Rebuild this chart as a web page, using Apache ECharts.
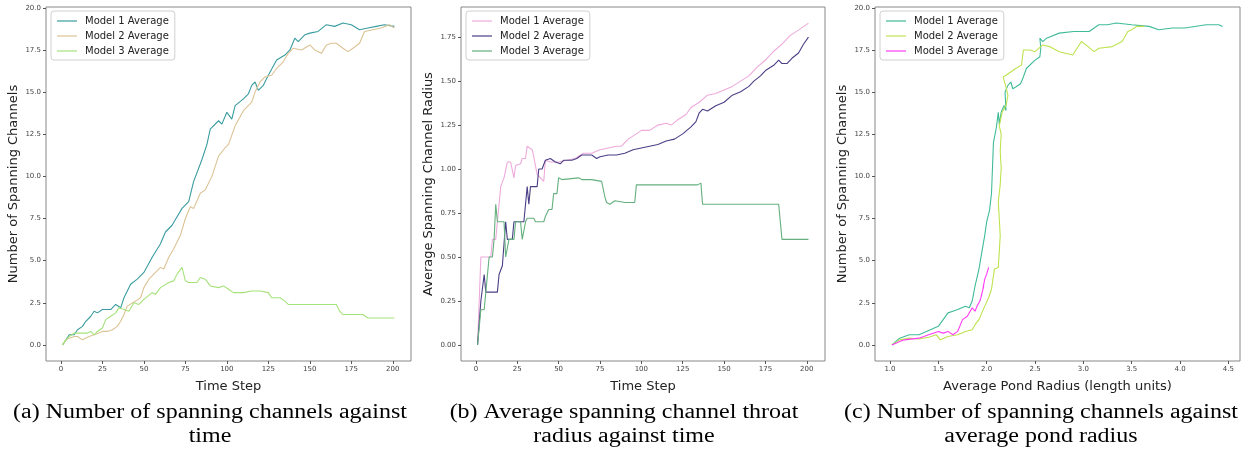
<!DOCTYPE html>
<html>
<head>
<meta charset="utf-8">
<script src="https://cdn.jsdelivr.net/npm/echarts@6/dist/echarts.min.js"></script>
<style>
  html, body { margin: 0; padding: 0; background: #fff; }
  #chart { width: 1250px; height: 449px; }
</style>
</head>
<body>
<div id="chart"></div>
<script>
// (a) number of spanning channels vs time step
const stepA1 = [1, 3, 5, 8, 10, 13, 15, 18, 20, 22, 25, 30, 33, 36, 38, 42, 46, 50, 55, 60, 63, 67, 70, 73, 77, 80, 85, 88, 90, 95, 97, 100, 103, 105, 110, 113, 115, 117, 119, 122, 125, 130, 135, 138, 141, 143, 147, 150, 155, 160, 165, 170, 175, 180, 185, 190, 195, 201]
const countA1 = [0, 0.3, 0.6, 0.6, 0.9, 1.1, 1.4, 1.7, 2.0, 1.9, 2.1, 2.1, 2.4, 2.2, 2.8, 3.6, 3.9, 4.3, 5.2, 6.0, 6.7, 7.1, 7.6, 8.1, 8.5, 9.7, 11.0, 11.9, 12.8, 13.3, 13.1, 13.8, 13.4, 14.2, 14.6, 14.9, 15.4, 15.6, 15.1, 15.4, 16.0, 16.9, 17.2, 17.5, 18.2, 18.0, 18.4, 18.5, 18.6, 19.0, 18.9, 19.1, 19.0, 18.7, 18.8, 18.9, 19.0, 18.9]
const stepA2 = [1, 3, 5, 8, 10, 13, 17, 20, 25, 28, 31, 34, 36, 38, 40, 45, 48, 50, 53, 57, 60, 62, 65, 68, 72, 75, 78, 80, 84, 87, 91, 95, 99, 101, 105, 110, 115, 117, 120, 123, 127, 130, 134, 137, 140, 145, 150, 153, 157, 160, 163, 166, 170, 173, 176, 180, 183, 188, 193, 198, 201]
const countA2 = [0, 0.3, 0.4, 0.5, 0.5, 0.3, 0.5, 0.6, 0.8, 0.8, 0.9, 1.1, 1.4, 1.8, 2.3, 2.6, 2.8, 3.4, 3.9, 4.3, 4.6, 4.5, 5.2, 5.7, 6.5, 7.5, 8.2, 8.1, 9.0, 9.2, 10.0, 11.2, 11.7, 11.9, 13.0, 13.9, 14.4, 15.0, 15.6, 15.9, 16.0, 16.4, 16.8, 17.3, 17.6, 17.5, 17.8, 17.5, 17.3, 17.8, 17.9, 17.9, 17.6, 17.4, 17.6, 17.9, 18.6, 18.7, 18.8, 19.0, 18.8]
const stepA3 = [1, 3, 5, 8, 12, 16, 18, 20, 22, 25, 27, 30, 33, 35, 38, 41, 44, 47, 50, 55, 57, 60, 65, 68, 70, 73, 75, 77, 82, 84, 87, 90, 95, 98, 101, 104, 110, 115, 120, 125, 127, 132, 135, 137, 150, 166, 168, 170, 182, 185, 201]
const countA3 = [0, 0.3, 0.5, 0.7, 0.7, 0.7, 0.8, 0.6, 0.8, 1.0, 1.5, 1.7, 1.9, 2.2, 2.1, 2.0, 2.5, 2.4, 2.7, 3.1, 3.0, 3.4, 3.7, 3.8, 4.2, 4.6, 3.8, 3.7, 3.7, 4.0, 3.9, 3.5, 3.4, 3.5, 3.3, 3.1, 3.1, 3.2, 3.2, 3.1, 2.8, 2.8, 2.6, 2.4, 2.4, 2.4, 2.0, 1.8, 1.8, 1.6, 1.6]

// (b) average spanning channel radius vs time step
const stepB1 = [1, 3, 5, 9, 10, 12, 15, 17, 19, 21, 23, 24, 27, 28, 30, 31, 34, 35, 37, 39, 41, 42, 45, 50, 55, 60, 65, 70, 75, 80, 85, 88, 92, 97, 100, 105, 110, 115, 118, 122, 127, 130, 135, 140, 145, 150, 155, 160, 165, 170, 175, 180, 185, 190, 195, 201]
const radiusB1 = [0, 0.5, 0.5, 0.5, 0.6, 0.6, 0.9, 0.95, 1.04, 1.04, 0.95, 1.02, 1.03, 1.06, 1.06, 1.13, 1.11, 1.07, 0.97, 0.95, 0.93, 1.05, 1.04, 1.04, 1.05, 1.06, 1.09, 1.09, 1.11, 1.12, 1.13, 1.13, 1.17, 1.20, 1.22, 1.22, 1.25, 1.26, 1.25, 1.28, 1.31, 1.35, 1.38, 1.42, 1.43, 1.45, 1.47, 1.50, 1.53, 1.58, 1.62, 1.67, 1.71, 1.76, 1.79, 1.83]
const stepB2 = [1, 3, 5, 6, 13, 14, 16, 18, 19, 22, 23, 29, 31, 32, 33, 37, 38, 40, 42, 45, 48, 51, 53, 58, 61, 64, 70, 73, 75, 80, 85, 90, 95, 100, 105, 110, 115, 120, 125, 130, 133, 135, 137, 140, 145, 150, 155, 160, 165, 168, 172, 175, 180, 183, 185, 188, 191, 195, 198, 201]
const radiusB2 = [0, 0.25, 0.4, 0.3, 0.3, 0.4, 0.45, 0.7, 0.6, 0.6, 0.7, 0.7, 0.9, 0.8, 0.9, 0.9, 1.0, 1.0, 1.05, 1.06, 1.04, 1.03, 1.05, 1.05, 1.06, 1.08, 1.08, 1.06, 1.07, 1.08, 1.08, 1.09, 1.11, 1.12, 1.13, 1.14, 1.16, 1.17, 1.20, 1.24, 1.27, 1.32, 1.34, 1.33, 1.36, 1.38, 1.42, 1.44, 1.47, 1.50, 1.53, 1.56, 1.59, 1.62, 1.60, 1.60, 1.63, 1.66, 1.71, 1.75]
const stepB3 = [1, 2, 3, 5, 6, 8, 10, 11, 12, 13, 17, 18, 19, 20, 23, 24, 27, 28, 29, 30, 31, 35, 36, 41, 42, 44, 46, 47, 49, 50, 52, 62, 64, 66, 67, 70, 76, 78, 79, 81, 84, 90, 96, 97, 134, 135, 136, 137, 168, 183, 184, 185, 201]
const radiusB3 = [0, 0, 0.2, 0.2, 0.3, 0.5, 0.5, 0.6, 0.8, 0.7, 0.7, 0.5, 0.5, 0.6, 0.6, 0.7, 0.7, 0.6, 0.6, 0.7, 0.72, 0.72, 0.7, 0.7, 0.73, 0.77, 0.77, 0.86, 0.86, 0.95, 0.94, 0.95, 0.94, 0.94, 0.95, 0.94, 0.93, 0.84, 0.81, 0.80, 0.82, 0.81, 0.81, 0.91, 0.91, 0.90, 0.92, 0.80, 0.80, 0.80, 0.70, 0.60, 0.60]

// (c) number of spanning channels vs average pond radius
const pondC1 = [1.02, 1.1, 1.2, 1.3, 1.4, 1.5, 1.55, 1.6, 1.65, 1.7, 1.78, 1.82, 1.85, 1.88, 1.92, 1.95, 1.98, 2.0, 2.03, 2.05, 2.06, 2.07, 2.1, 2.12, 2.13, 2.15, 2.18, 2.2, 2.19, 2.22, 2.25, 2.27, 2.3, 2.35, 2.38, 2.41, 2.5, 2.55, 2.56, 2.55, 2.58, 2.62, 2.75, 2.9, 3.06, 3.16, 3.25, 3.34, 3.5, 3.68, 3.78, 3.92, 4.05, 4.27, 4.4, 4.44]
const countC1 = [0, 0.4, 0.6, 0.6, 0.85, 1.1, 1.5, 1.9, 2.0, 2.1, 2.3, 2.2, 2.6, 3.5, 4.5, 5.5, 6.5, 7.3, 8.0, 9.0, 10.5, 12.0, 12.9, 13.8, 13.1, 13.8, 14.2, 13.9, 15.0, 15.4, 15.6, 15.2, 15.3, 15.5, 15.9, 16.4, 16.9, 17.1, 17.6, 18.2, 18.0, 18.2, 18.5, 18.6, 18.6, 19.0, 19.0, 19.1, 19.0, 18.9, 18.7, 18.8, 18.8, 19.0, 19.0, 18.9]
const pondC2 = [1.02, 1.1, 1.2, 1.3, 1.4, 1.48, 1.52, 1.6, 1.7, 1.78, 1.85, 1.88, 1.92, 1.95, 1.98, 2.02, 2.05, 2.08, 2.12, 2.13, 2.14, 2.13, 2.12, 2.14, 2.15, 2.14, 2.15, 2.13, 2.16, 2.2, 2.22, 2.2, 2.17, 2.2, 2.3, 2.36, 2.38, 2.45, 2.5, 2.58, 2.65, 2.75, 2.89, 2.98, 3.05, 3.11, 3.16, 3.3, 3.4, 3.46, 3.5, 3.55, 3.63]
const countC2 = [0, 0.3, 0.4, 0.35, 0.45, 0.6, 0.3, 0.5, 0.6, 0.8, 0.9, 1.2, 1.5, 1.9, 2.3, 2.8, 3.3, 4.5, 4.6, 5.5, 6.5, 7.5, 8.5, 9.5, 10.5, 11.5, 12.5, 13.0, 13.8, 14.2, 14.8, 15.3, 15.9, 16.0, 16.4, 16.6, 17.5, 17.5, 17.4, 17.8, 17.7, 17.4, 17.2, 18.0, 17.7, 17.4, 17.6, 17.7, 18.0, 18.6, 18.7, 18.9, 18.9]
const pondC3 = [1.02, 1.1, 1.15, 1.3, 1.4, 1.5, 1.55, 1.6, 1.65, 1.7, 1.75, 1.8, 1.85, 1.88, 1.9, 1.93, 1.95, 1.94, 1.97, 1.96, 1.98, 2.0, 2.02]
const countC3 = [0, 0.2, 0.3, 0.4, 0.6, 0.8, 0.7, 0.8, 0.6, 0.8, 1.5, 1.7, 2.2, 2.0, 2.3, 2.6, 3.0, 2.8, 3.5, 3.3, 3.9, 4.2, 4.6]

const labelsTime = [0, 25, 50, 75, 100, 125, 150, 175, 200]
const labelsCount = [0, 2.5, 5, 7.5, 10, 12.5, 15, 17.5, 20]
const labelsRadius = [0, 0.25, 0.5, 0.75, 1, 1.25, 1.5, 1.75]
const labelsPond = [1, 1.5, 2, 2.5, 3, 3.5, 4, 4.5]

const pairs = (xs, ys) => xs.map((x, i) => [x, ys[i]])

const tickFont = { fontFamily: 'DejaVu Sans', fontSize: 7, color: '#444' }
const nameFont = { fontFamily: 'DejaVu Sans', fontSize: 13, color: '#222' }

function axis (grid, name, min, max, ticks, digits, gap) {
  return {
    type: 'value',
    gridIndex: grid,
    min,
    max,
    name,
    nameLocation: 'middle',
    nameGap: gap,
    nameTextStyle: nameFont,
    axisLine: { show: false, onZero: false },
    axisTick: { show: true, length: 3, customValues: ticks, lineStyle: { color: '#555' } },
    axisLabel: { ...tickFont, margin: 5, customValues: ticks, formatter: v => v.toFixed(digits) },
    splitLine: { show: false }
  }
}

function line (name, idx, data, color) {
  return {
    name,
    type: 'line',
    xAxisIndex: idx,
    yAxisIndex: idx,
    data,
    showSymbol: false,
    symbol: 'none',
    animation: false,
    lineStyle: { color, width: 1.1 },
    itemStyle: { color }
  }
}

function legend (left, names) {
  return {
    left,
    top: 11,
    orient: 'vertical',
    data: names,
    icon: 'rect',
    itemWidth: 20,
    itemHeight: 1.2,
    itemGap: 5,
    padding: [5, 6, 4, 6],
    borderColor: '#d0d0d0',
    borderWidth: 1,
    borderRadius: 3,
    backgroundColor: '#fff',
    textStyle: { fontFamily: 'DejaVu Sans', fontSize: 10, color: '#222', padding: [0, 0, 0, 3] },
    formatter: n => n.replace(/ \(.\)$/, '')
  }
}

// latex-style caption, stretched a little to match the Computer Modern width
function caption (x, y, text) {
  return {
    type: 'text',
    x,
    y,
    scaleX: 1.2,
    style: { text, font: '20px "Liberation Serif"', fill: '#000', align: 'center', verticalAlign: 'middle' }
  }
}

const chart = echarts.init(document.getElementById('chart'))
chart.setOption({
  backgroundColor: '#fff',
  animation: false,
  grid: [
    { left: 46, top: 7, width: 365, height: 354, show: true, borderColor: '#888', borderWidth: 1 },
    { left: 461, top: 7, width: 364, height: 354, show: true, borderColor: '#888', borderWidth: 1 },
    { left: 875, top: 7, width: 365, height: 354, show: true, borderColor: '#888', borderWidth: 1 }
  ],
  xAxis: [
    axis(0, 'Time Step', -9, 211, labelsTime, 0, 19),
    axis(1, 'Time Step', -9, 211, labelsTime, 0, 19),
    axis(2, 'Average Pond Radius (length units)', 0.845, 4.62, labelsPond, 1, 19)
  ],
  yAxis: [
    axis(0, 'Number of Spanning Channels', -0.955, 20.05, labelsCount, 1, 26),
    axis(1, 'Average Spanning Channel Radius', -0.0915, 1.9215, labelsRadius, 2, 26),
    axis(2, 'Number of Spanning Channels', -0.955, 20.05, labelsCount, 1, 26)
  ],
  legend: [
    legend(51, ['Model 1 Average (a)', 'Model 2 Average (a)', 'Model 3 Average (a)']),
    legend(466, ['Model 1 Average (b)', 'Model 2 Average (b)', 'Model 3 Average (b)']),
    legend(880, ['Model 1 Average (c)', 'Model 2 Average (c)', 'Model 3 Average (c)'])
  ],
  series: [
    line('Model 1 Average (a)', 0, pairs(stepA1, countA1), '#3a9c9f'),
    line('Model 2 Average (a)', 0, pairs(stepA2, countA2), '#dcc395'),
    line('Model 3 Average (a)', 0, pairs(stepA3, countA3), '#a6e27a'),
    line('Model 1 Average (b)', 1, pairs(stepB1, radiusB1), '#eeaadb'),
    line('Model 2 Average (b)', 1, pairs(stepB2, radiusB2), '#4a3f86'),
    line('Model 3 Average (b)', 1, pairs(stepB3, radiusB3), '#64b07e'),
    line('Model 1 Average (c)', 2, pairs(pondC1, countC1), '#40bb98'),
    line('Model 2 Average (c)', 2, pairs(pondC2, countC2), '#bde34f'),
    line('Model 3 Average (c)', 2, pairs(pondC3, countC3), '#ff3cf5')
  ],
  graphic: [
    caption(210, 413, '(a) Number of spanning channels against'),
    caption(210, 437, 'time'),
    caption(624, 413, '(b) Average spanning channel throat'),
    caption(624, 437, 'radius against time'),
    caption(1041, 413, '(c) Number of spanning channels against'),
    caption(1041, 437, 'average pond radius')
  ]
})
</script>
</body>
</html>
